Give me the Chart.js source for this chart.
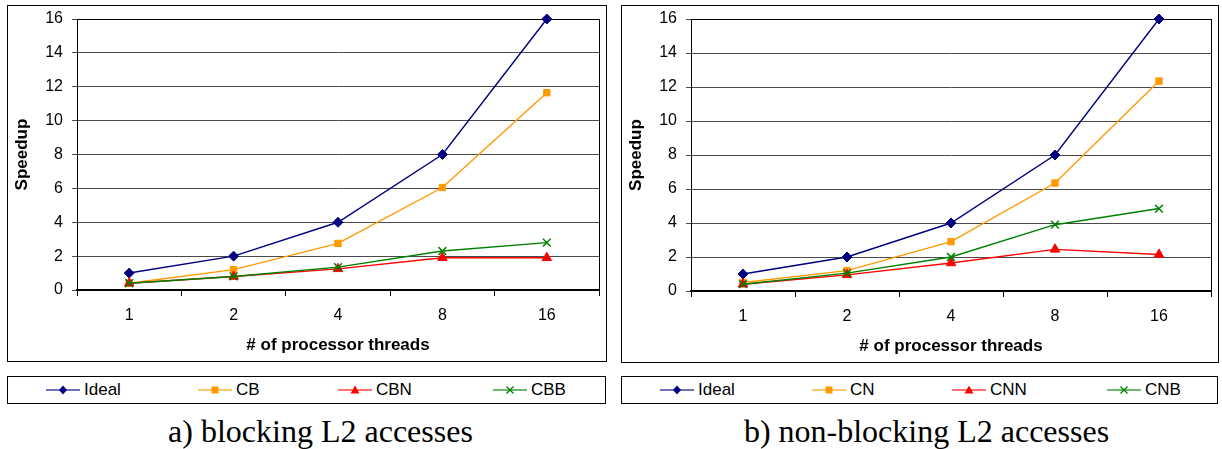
<!DOCTYPE html>
<html>
<head>
<meta charset="utf-8">
<script src="https://cdn.jsdelivr.net/npm/chart.js@4.4.1/dist/chart.umd.min.js"></script>
<style>
  body { margin: 0; background: #fff; width: 1222px; height: 449px; position: relative; overflow: hidden; }
  .frame { position: absolute; border: 1px solid #000; box-sizing: border-box; }
  .frame canvas { position: absolute; left: 0; top: 0; }
  .legend { position: absolute; border: 1px solid #000; box-sizing: border-box; font-family: "Liberation Sans", Arial, sans-serif; font-size: 17px; }
  .legend .item { position: absolute; top: 3px; height: 20px; display: flex; align-items: center; }
  .legend svg { margin-right: 4px; }
  .caption { position: absolute; font-family: "Liberation Serif", "Times New Roman", serif; font-size: 32px; line-height: 36px; text-align: center; }
</style>
</head>
<body>
<div class="frame" id="frameA" style="left:7px; top:5px; width:600px; height:357px;"><canvas id="chartA" width="598" height="355"></canvas></div>
<div class="legend" id="legendA" style="left:7px; top:376px; width:599px; height:28px;"></div>
<div class="caption" style="left:21px; top:413px; width:599px;">a) blocking L2 accesses</div>

<div class="frame" id="frameB" style="left:621px; top:5px; width:598px; height:358px;"><canvas id="chartB" width="596" height="356"></canvas></div>
<div class="legend" id="legendB" style="left:621px; top:376px; width:597px; height:28px;"></div>
<div class="caption" style="left:628px; top:413px; width:597px;">b) non-blocking L2 accesses</div>

<script>
// categories and values
const threads = ['1', '2', '4', '8', '16'];
const yMin = 0, yMax = 16, yStep = 2;

const namesA = ['Ideal', 'CB', 'CBN', 'CBB'];
const idealA = [1, 2, 4, 8, 16];
const cbA = [0.4, 1.2, 2.75, 6.05, 11.65];
const cbnA = [0.4, 0.8, 1.25, 1.9, 1.9];
const cbbA = [0.4, 0.8, 1.35, 2.3, 2.8];

const namesB = ['Ideal', 'CN', 'CNN', 'CNB'];
const idealB = [1, 2, 4, 8, 16];
const cnB = [0.5, 1.2, 2.9, 6.35, 12.35];
const cnnB = [0.4, 0.95, 1.65, 2.45, 2.15];
const cnbB = [0.4, 1.05, 2.0, 3.9, 4.85];

// styles per series
const colors = ['#000080', '#FF9900', '#FF0000', '#008000'];
const shapes = ['rectRot', 'rect', 'triangle', 'crossRot'];
const radii = [5, 4.5, 5.5, 5.5];

Chart.defaults.font.family = '"Liberation Sans", Arial, sans-serif';
Chart.defaults.color = '#000';

// black box round the plot area
const plotBorder = {
  id: 'plotBorder',
  beforeDatasetsDraw(chart) {
    const { ctx, chartArea: a } = chart;
    ctx.save();
    ctx.strokeStyle = '#000';
    ctx.lineWidth = 1;
    ctx.strokeRect(Math.round(a.left) + 0.5, Math.round(a.top) + 0.5, Math.round(a.right - a.left), Math.round(a.bottom - a.top));
    ctx.restore();
  }
};

const makeChart = (id, names, series, yAxisWidth) => {
  const ctx = document.getElementById(id).getContext('2d');
  new Chart(ctx, {
    type: 'line',
    data: {
      labels: threads,
      datasets: series.map((vals, i) => ({
        label: names[i],
        data: vals,
        borderColor: colors[i],
        backgroundColor: colors[i],
        borderWidth: 1.4,
        pointStyle: shapes[i],
        pointRadius: radii[i],
        pointBorderWidth: shapes[i] === 'crossRot' ? 1.5 : 1,
        tension: 0,
        clip: 10
      })).reverse()
    },
    options: {
      responsive: false,
      animation: false,
      layout: { padding: { top: 13, right: 3, left: 0, bottom: 0 } },
      plugins: { legend: { display: false }, tooltip: { enabled: false } },
      scales: {
        x: {
          offset: true,
          grid: { offset: true, drawOnChartArea: false, tickLength: 6, color: '#000', lineWidth: 1 },
          border: { color: '#000', width: 1.5 },
          ticks: { padding: 10, font: { size: 16 } },
          title: { display: true, text: '# of processor threads', font: { size: 17, weight: 'bold' }, padding: { top: 4, bottom: 5 } },
          afterFit: (s) => { s.height = 71; s.paddingLeft = 0; s.paddingRight = 0; }
        },
        y: {
          min: yMin,
          max: yMax,
          ticks: { stepSize: yStep, padding: 9, font: { size: 16 } },
          grid: { color: '#4a4a4a', lineWidth: 1, tickLength: 5 },
          border: { color: '#000', width: 1 },
          title: { display: true, text: 'Speedup', font: { size: 17, weight: 'bold' }, padding: { top: 4, bottom: 0 } },
          afterFit: (s) => { s.width = yAxisWidth; s.paddingTop = 0; s.paddingBottom = 0; }
        }
      }
    },
    plugins: [plotBorder]
  });
};

makeChart('chartA', namesA, [idealA, cbA, cbnA, cbbA], 69);
makeChart('chartB', namesB, [idealB, cnB, cnnB, cnbB], 69);

// legend boxes below each panel
const markerSvg = (i) => {
  const c = colors[i];
  let m = '';
  if (shapes[i] === 'rectRot') m = `<polygon points="17,5.5 21,10 17,14.5 13,10" fill="${c}"/>`;
  if (shapes[i] === 'rect') m = `<rect x="13.5" y="6.5" width="7" height="7" fill="${c}"/>`;
  if (shapes[i] === 'triangle') m = `<polygon points="17,5.5 21.5,13.5 12.5,13.5" fill="${c}"/>`;
  if (shapes[i] === 'crossRot') m = `<path d="M13.5 6.5 L20.5 13.5 M20.5 6.5 L13.5 13.5" stroke="${c}" stroke-width="1.3"/>`;
  return `<svg width="34" height="20"><line x1="0" y1="10" x2="34" y2="10" stroke="${c}" stroke-width="1.5" stroke-opacity="0.75"/>${m}</svg>`;
};

const fillLegend = (id, names, lefts) => {
  const box = document.getElementById(id);
  names.forEach((n, i) => {
    const d = document.createElement('div');
    d.className = 'item';
    d.style.left = lefts[i] + 'px';
    d.innerHTML = markerSvg(i) + '<span>' + n + '</span>';
    box.appendChild(d);
  });
};

fillLegend('legendA', namesA, [38, 190, 330, 485]);
fillLegend('legendB', namesB, [38, 190, 330, 485]);
</script>
</body>
</html>
